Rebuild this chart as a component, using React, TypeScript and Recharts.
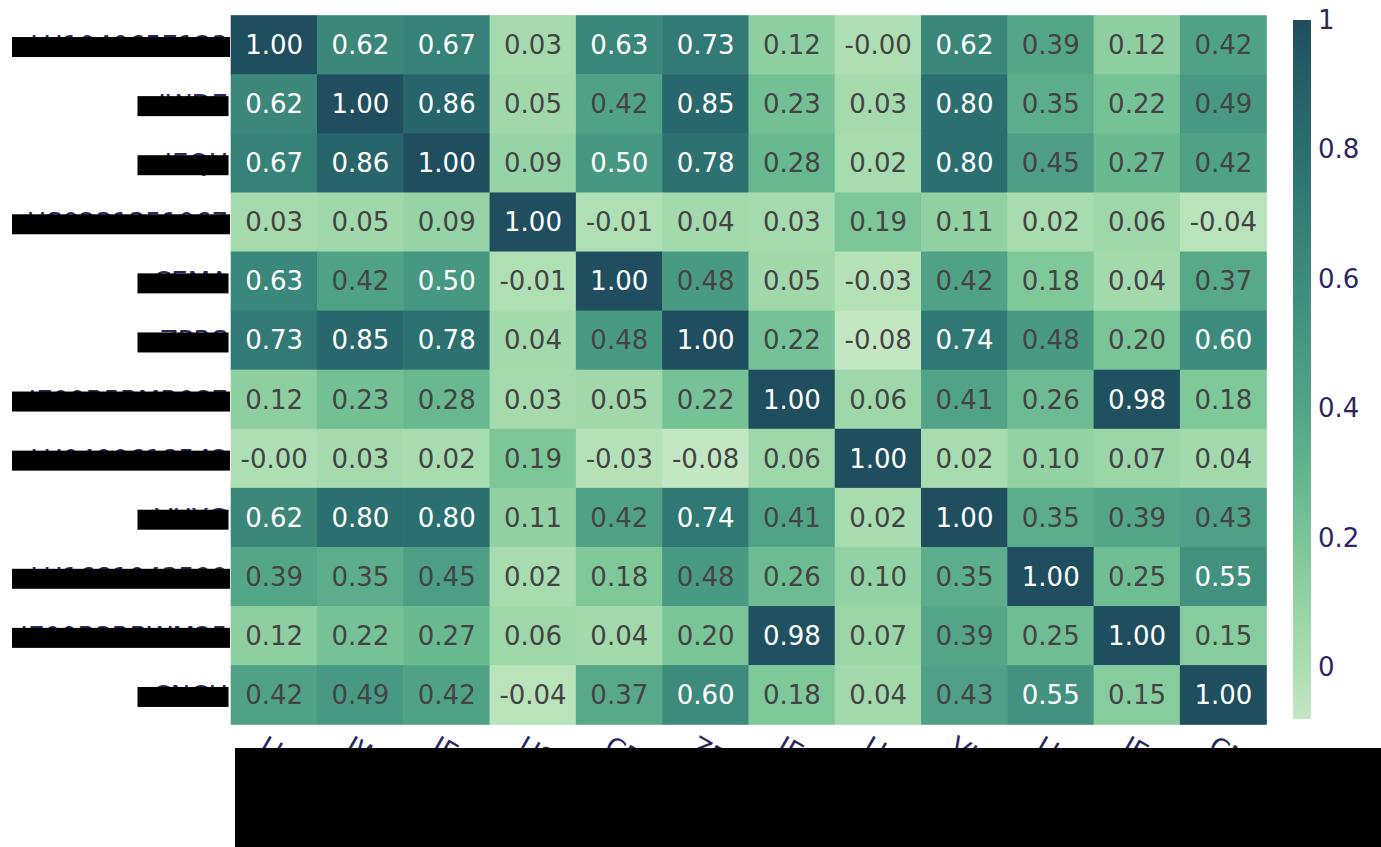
import React from "react";
import { ScatterChart, Scatter, XAxis, YAxis } from "recharts";

const tickers = [
  "LU1040657123",
  "IWDE",
  "IEQU",
  "US0231351067",
  "CEMA",
  "ZPRS",
  "IE00B5BMR087",
  "LU0490618542",
  "VHYG",
  "LU1681043599",
  "IE00B3RBWM25",
  "CNCH",
];

// correlation rows, same order as tickers
const row0 = [1.0, 0.62, 0.67, 0.03, 0.63, 0.73, 0.12, -0.004, 0.62, 0.39, 0.12, 0.42];
const row1 = [0.62, 1.0, 0.86, 0.05, 0.42, 0.85, 0.23, 0.03, 0.8, 0.35, 0.22, 0.49];
const row2 = [0.67, 0.86, 1.0, 0.09, 0.5, 0.78, 0.28, 0.02, 0.8, 0.45, 0.27, 0.42];
const row3 = [0.03, 0.05, 0.09, 1.0, -0.01, 0.04, 0.03, 0.19, 0.11, 0.02, 0.06, -0.04];
const row4 = [0.63, 0.42, 0.5, -0.01, 1.0, 0.48, 0.05, -0.03, 0.42, 0.18, 0.04, 0.37];
const row5 = [0.73, 0.85, 0.78, 0.04, 0.48, 1.0, 0.22, -0.08, 0.74, 0.48, 0.2, 0.6];
const row6 = [0.12, 0.23, 0.28, 0.03, 0.05, 0.22, 1.0, 0.06, 0.41, 0.26, 0.98, 0.18];
const row7 = [-0.004, 0.03, 0.02, 0.19, -0.03, -0.08, 0.06, 1.0, 0.02, 0.1, 0.07, 0.04];
const row8 = [0.62, 0.8, 0.8, 0.11, 0.42, 0.74, 0.41, 0.02, 1.0, 0.35, 0.39, 0.43];
const row9 = [0.39, 0.35, 0.45, 0.02, 0.18, 0.48, 0.26, 0.1, 0.35, 1.0, 0.25, 0.55];
const row10 = [0.12, 0.22, 0.27, 0.06, 0.04, 0.2, 0.98, 0.07, 0.39, 0.25, 1.0, 0.15];
const row11 = [0.42, 0.49, 0.42, -0.04, 0.37, 0.6, 0.18, 0.04, 0.43, 0.55, 0.15, 1.0];

const matrix = [row0, row1, row2, row3, row4, row5, row6, row7, row8, row9, row10, row11];

const colorbarTicks = [0, 0.2, 0.4, 0.6, 0.8, 1];

const W = 1381;
const H = 847;
const margin = { top: 15.5, right: 114.5, bottom: 92.5, left: 8 };
const yAxisW = 223;
const xAxisH = 30;
const plotW = W - margin.left - yAxisW - margin.right;
const plotH = H - margin.top - margin.bottom - xAxisH;
const n = tickers.length;
const cellW = plotW / n;
const cellH = plotH / n;

const NAVY = "#29295f";
const FONT = "DejaVu Sans, sans-serif";

const allVals = matrix.flat();
const zmin = Math.min(...allVals);
const zmax = Math.max(...allVals);

const ramp: [number, string][] = [
  [-0.08, "#c4e7c3"],
  [0.0, "#acdeb3"],
  [0.1, "#93d2a4"],
  [0.2, "#7ac598"],
  [0.3, "#63b58e"],
  [0.4, "#52a487"],
  [0.5, "#479882"],
  [0.6, "#3d8b7c"],
  [0.7, "#337e77"],
  [0.8, "#2b6f70"],
  [0.9, "#245f68"],
  [1.0, "#1f4e5f"],
];

const hex = (c: string) => [1, 3, 5].map((i) => parseInt(c.slice(i, i + 2), 16));

function colorFor(v: number) {
  if (v <= ramp[0][0]) return ramp[0][1];
  for (let i = 1; i < ramp.length; i++) {
    if (v <= ramp[i][0]) {
      const [v0, c0] = ramp[i - 1];
      const [v1, c1] = ramp[i];
      const t = (v - v0) / (v1 - v0);
      const a = hex(c0);
      const b = hex(c1);
      const m = a.map((x, k) => Math.round(x + (b[k] - x) * t));
      return `rgb(${m[0]},${m[1]},${m[2]})`;
    }
  }
  return ramp[ramp.length - 1][1];
}

const cells = matrix.flatMap((row, r) =>
  row.map((v, c) => ({ x: c + 0.5, y: r + 0.5, v }))
);

const centers = tickers.map((_, i) => i + 0.5);

function Cell(props: any) {
  const { cx, cy, payload } = props;
  const v: number = payload.v;
  return (
    <g>
      <rect
        x={cx - cellW / 2 - 0.3}
        y={cy - cellH / 2 - 0.3}
        width={cellW + 0.6}
        height={cellH + 0.6}
        fill={colorFor(v)}
      />
      <text
        x={cx}
        y={cy}
        textAnchor="middle"
        dominantBaseline="central"
        fontFamily={FONT}
        fontSize={26}
        fill={v >= 0.495 ? "#ffffff" : "#444444"}
      >
        {v.toFixed(2)}
      </text>
    </g>
  );
}

function YTick(props: any) {
  const { y, payload } = props;
  const label = tickers[Math.round(payload.value - 0.5)] ?? "";
  const long = label.length > 6;
  const boxW = long ? 218 : 91;
  return (
    <g>
      <text
        x={228}
        y={y + 1}
        textAnchor="end"
        dominantBaseline="central"
        fontFamily={FONT}
        fontSize={26}
        fill={NAVY}
      >
        {label}
      </text>
      <rect x={(long ? 230 : 228.5) - boxW} y={y - 8} width={boxW} height={20} fill="#000" />
    </g>
  );
}

function XTick(props: any) {
  const { x, payload } = props;
  const label = tickers[Math.round(payload.value - 0.5)] ?? "";
  return (
    <text
      transform={`translate(${x - 6},${733}) rotate(30)`}
      dy="0.8em"
      textAnchor="start"
      fontFamily={FONT}
      fontSize={26}
      fill={NAVY}
    >
      {label}
    </text>
  );
}

function Colorbar() {
  const top = 20;
  const bottom = 719;
  const x0 = 1293;
  const bw = 18;
  const yOf = (v: number) => top + ((zmax - v) / (zmax - zmin)) * (bottom - top);
  // stops must run top (max) to bottom (min)
  const stops = [...ramp].reverse();
  return (
    <svg
      width={W}
      height={H}
      style={{ position: "absolute", left: 0, top: 0, pointerEvents: "none" }}
    >
      <defs>
        <linearGradient id="cb" x1="0" y1="0" x2="0" y2="1">
          {stops.map(([v, c]) => (
            <stop key={v} offset={(zmax - v) / (zmax - zmin)} stopColor={c} />
          ))}
        </linearGradient>
      </defs>
      <rect x={x0} y={top} width={bw} height={bottom - top} fill="url(#cb)" />
      {colorbarTicks.map((t) => (
        <text
          key={t}
          x={1318}
          y={yOf(t)}
          dominantBaseline="central"
          fontFamily={FONT}
          fontSize={26}
          fill={NAVY}
        >
          {String(t)}
        </text>
      ))}
      <rect x={235} y={748} width={W - 235} height={H - 748} fill="#000" />
    </svg>
  );
}

export default function App() {
  return (
    <div style={{ position: "absolute", left: 0, top: 0, width: W, height: H, background: "#fff" }}>
      <ScatterChart width={W} height={H} margin={margin}>
        <XAxis
          type="number"
          dataKey="x"
          domain={[0, n]}
          ticks={centers}
          interval={0}
          axisLine={false}
          tickLine={false}
          height={xAxisH}
          tick={<XTick />}
        />
        <YAxis
          type="number"
          dataKey="y"
          domain={[0, n]}
          reversed
          ticks={centers}
          interval={0}
          axisLine={false}
          tickLine={false}
          width={yAxisW}
          tick={<YTick />}
        />
        <Scatter data={cells} shape={<Cell />} isAnimationActive={false} />
      </ScatterChart>
      <Colorbar />
    </div>
  );
}
